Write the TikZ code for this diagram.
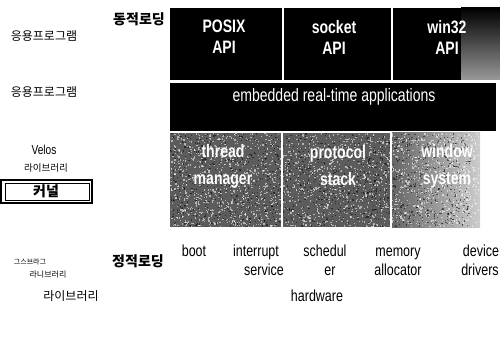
\documentclass[tikz,border=0pt]{standalone}
\usepackage{fontspec}
\setmainfont{Liberation Sans}
\newfontfamily\cond[FakeStretch=0.78]{Liberation Sans}
\newfontfamily\kr{Noto Sans CJK KR}
\begin{document}
\begin{tikzpicture}[x=1pt,y=-1pt,
  lbl/.style={font=\cond\fontsize{18}{19}\selectfont\bfseries, text=white, align=center, inner sep=0pt},
  hwlbl/.style={font=\cond\fontsize{16}{19}\selectfont, text=black, align=center, inner sep=0pt, anchor=base},
  krlbl/.style={font=\kr\fontsize{12}{13}\selectfont, inner sep=0pt},
  krbig/.style={font=\kr\fontsize{14}{15}\selectfont\bfseries, inner sep=0pt},
  divider/.style={white, line width=1.2pt}]
\useasboundingbox (0,0) rectangle (500,339);

% --- API row, fading out to the right
\fill[black] (170,8) rectangle (462,80);
\shade[left color=black, right color=black!40, shading angle=0] (461,8) rectangle (500,80);
\draw[divider] (283,8) -- (283,80);
\draw[divider] (392,8) -- (392,80);

% --- application row
\fill[black] (170,83) rectangle (496,131);

% --- grainy service row
\fill[black!64] (170,133) rectangle (392,227);
\shade[left color=black!60, right color=black!20] (392,133) rectangle (480,227);
\pgfmathsetseed{42}
\foreach \i in {1,...,2200}{
  \fill[white, opacity=0.55] ({170+308*rnd},{133+93*rnd}) rectangle ++(1.3,1.3);
}
\foreach \i in {1,...,1400}{
  \fill[black, opacity=0.5] ({170+300*rnd},{133+93*rnd}) rectangle ++(1.2,1.2);
}
\draw[divider] (282,133) -- (282,227);
\draw[divider] (391,133) -- (391,227);

% --- labels in the blocks
\node[lbl] (posix) at (224,37) {POSIX\\[2pt]API};
\node[lbl] (socket) at (334,37) {socket\\[2pt]API};
\node[lbl] (win) at (447,37) {win32\\[2pt]API};
\node[lbl, font=\cond\fontsize{18}{19}\selectfont] (emb) at (334,97) {embedded real-time applications};
\node[lbl] (thread) at (223,166) {thread\\[8pt]manager};
\node[lbl] (proto) at (338,166) {protocol\\[8pt]stack};
\node[lbl] (winsys) at (447,166) {window\\[8pt]system};

% --- kernel services and hardware
\node[hwlbl] (boot) at (194,256) {boot};
\node[hwlbl] (intr1) at (256,256) {interrupt};
\node[hwlbl] (intr2) at (264,275) {service};
\node[hwlbl] (sched1) at (325,256) {schedul};
\node[hwlbl] (sched2) at (330,275) {er};
\node[hwlbl] (mem1) at (398,256) {memory};
\node[hwlbl] (mem2) at (398,275) {allocator};
\node[hwlbl] (dev1) at (481,256) {device};
\node[hwlbl] (dev2) at (480,275) {drivers};
\node[hwlbl] (hw) at (317,301) {hardware};

% --- left-hand captions
\node[krbig] (dyn) at (139,19) {동적로딩};
\node[krlbl] (app1) at (44,36) {응용프로그램};
\node[krlbl] (app2) at (44,92) {응용프로그램};
\node[hwlbl, font=\cond\fontsize{13}{14}\selectfont, anchor=center] (velos) at (44,150) {Velos};
\node[krlbl, font=\kr\fontsize{9.5}{10}\selectfont] (vlib) at (46,168) {라이브러리};

% kernel box with double frame
\draw[line width=1.2pt] (1,180) rectangle (92,203);
\draw[line width=0.7pt] (5,183) rectangle (89,200);
\draw[line width=2pt] (1,203) -- (92,203);
\node[krbig] (kernel) at (46,191) {커널};

\node[krbig] (stat) at (138,261) {정적로딩};
\node[krlbl, font=\kr\fontsize{7}{8}\selectfont] (lib1) at (30,262) {그스브라그};
\node[krlbl, font=\kr\fontsize{8}{9}\selectfont] (lib2) at (48,275) {라니브러리};
\node[krlbl] (lib3) at (71,296) {라이브러리};
\end{tikzpicture}
\end{document}
